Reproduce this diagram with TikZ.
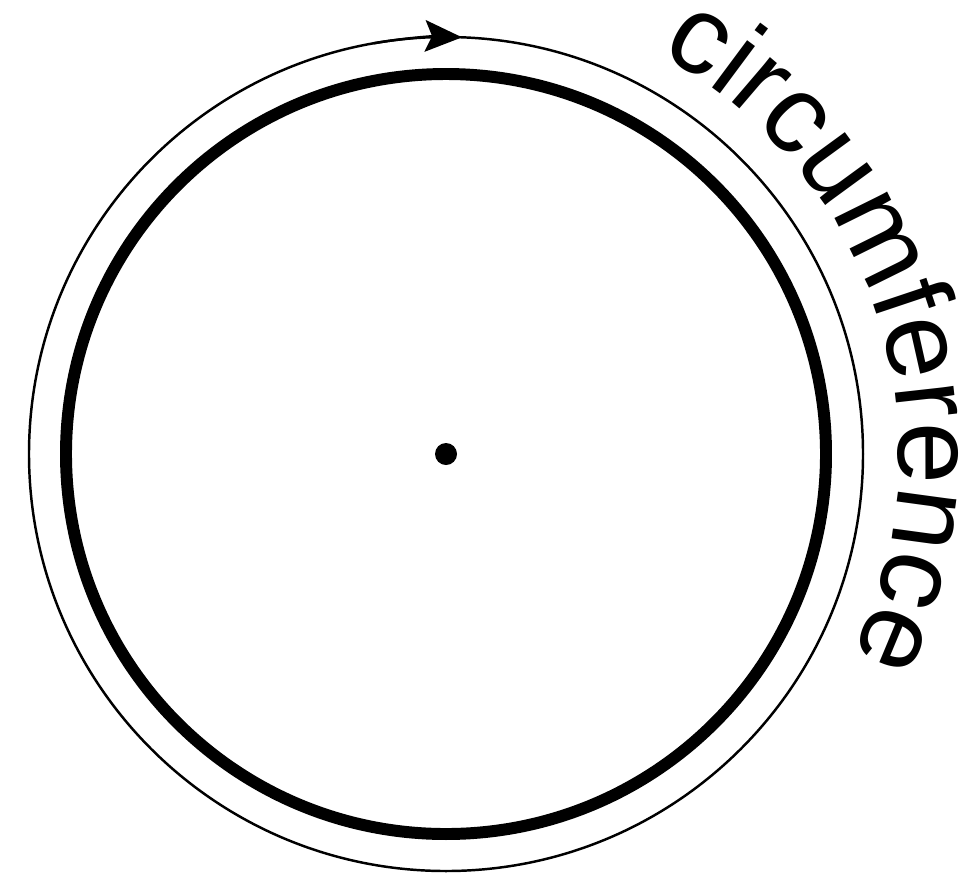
\documentclass[tikz,border=0pt]{standalone}
\usepackage{fontspec}
\setmainfont{Liberation Sans}
\usetikzlibrary{arrows.meta,calc,decorations.text}

\begin{document}
\begin{tikzpicture}[x=0.01cm, y=0.01cm,
  rim/.style={line width=3.4pt},
  orbit/.style={line width=0.7pt}]
  \useasboundingbox (-446,-421) rectangle (531,454);
  \coordinate (c) at (0,0);
  \draw[rim]   (c) circle[radius=380];
  \draw[orbit] (c) circle[radius=417];
  \draw[orbit, -{Stealth[length=10.5pt, width=9pt, inset=2pt]}]
    ($(c)+(100:417)$) arc[start angle=100, end angle=87.8, radius=417];
  \fill (c) circle[radius=11];
  % label bent round the outside
  \path[decorate, decoration={text along path, text align=left,
    text={|\fontsize{31.7}{38}\selectfont|circumference}}]
    (62:453) arc[start angle=62, end angle=-45, radius=453];
\end{tikzpicture}
\end{document}
